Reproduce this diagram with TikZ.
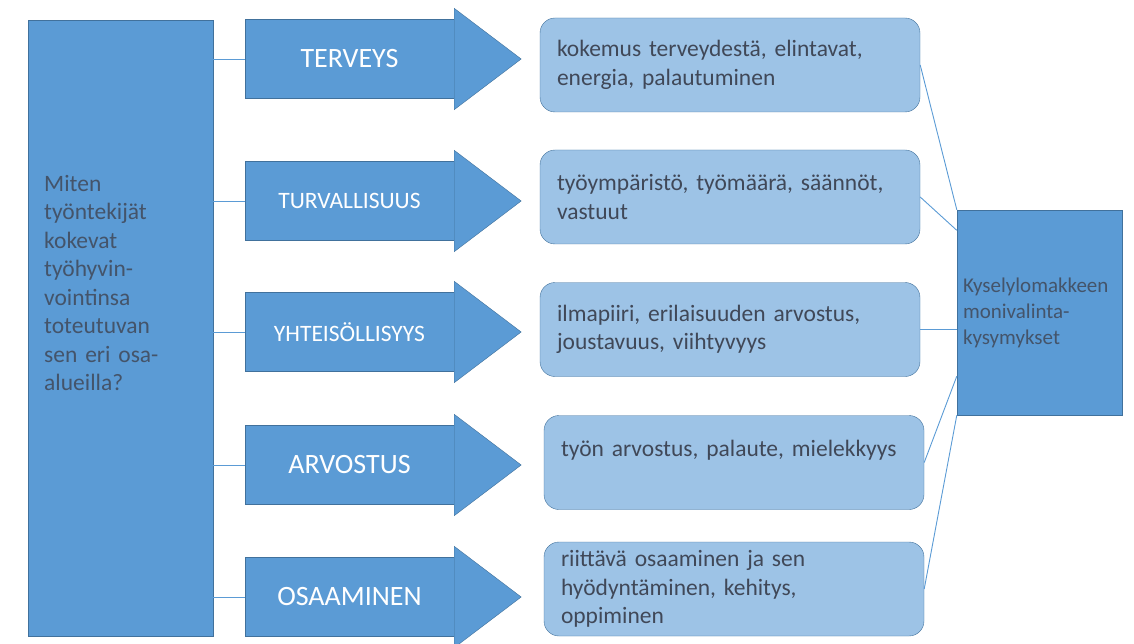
\documentclass[tikz,border=0pt]{standalone}
\usepackage{fontspec}
\setmainfont{Carlito}
\usepackage{xcolor}
\usepackage{tikz}
\usetikzlibrary{calc}
\definecolor{mainblue}{HTML}{5B9BD5}
\definecolor{edgeblue}{HTML}{41719C}
\definecolor{lightblue}{HTML}{9DC3E6}
\definecolor{slate}{HTML}{44546A}
\definecolor{darkslate}{HTML}{404858}

\begin{document}
\begin{tikzpicture}[
    x=1pt, y=-1pt,
    aihe/.style={draw=edgeblue, fill=mainblue, minimum width=209pt, minimum height=79pt, text=white, font=\fontsize{28}{33}\selectfont},
    pieniaihe/.style={aihe, font=\fontsize{23.5}{28}\selectfont},
    karki/.style={draw=edgeblue, fill=mainblue},
    kuvaus/.style={draw=edgeblue, fill=lightblue, rounded corners=15pt, minimum width=380pt, minimum height=94pt, inner xsep=17pt, text width=346pt, align=left, text=darkslate, font=\fontsize{23.5}{28.3}\selectfont},
    linja/.style={draw=mainblue, line width=0.9pt}
]
\useasboundingbox (0,0) rectangle (1134,644);

% left question box
\node[draw=edgeblue, fill=mainblue, minimum width=185pt, minimum height=616pt] (vaite) at (120.5,328) {};
\node[anchor=west, inner sep=0pt, text width=160pt, align=left, text=slate, font=\fontsize{23.5}{28.5}\selectfont] (vaiteteksti) at (44,283)
  {Miten\\työntekijät\\kokevat\\työhyvin-\\vointinsa\\toteutuvan\\sen eri osa-\\alueilla?};

% topic arrows
\node[aihe] (terveys) at (349.5,59) {TERVEYS};
\node[pieniaihe] (turva) at (349.5,201) {TURVALLISUUS};
\node[pieniaihe] (yhteiso) at (349.5,332) {YHTEISÖLLISYYS};
\node[aihe] (arvostus) at (349.5,465) {ARVOSTUS};
\node[aihe] (osaaminen) at (349.5,597) {OSAAMINEN};

\foreach \n in {terveys,turva,yhteiso,arvostus,osaaminen}{
  \draw[karki] ([yshift=11pt]\n.north east) -- ([xshift=67pt]\n.east) -- ([yshift=-11pt]\n.south east) -- cycle;
  \draw[linja] (vaite.east |- \n.west) -- (\n.west);
}

% descriptions
\node[kuvaus] (k1) at (730,65) {kokemus terveydestä, elintavat,\\energia, palautuminen};
\node[kuvaus] (k2) at (730,197) {työympäristö, työmäärä, säännöt,\\vastuut};
\node[kuvaus] (k3) at (730,329.5) {ilmapiiri, erilaisuuden arvostus,\\joustavuus, viihtyvyys};
\node[kuvaus] (k4) at (734,462.5) {työn arvostus, palaute, mielekkyys\\\mbox{}};
\node[kuvaus] (k5) at (734,589) {riittävä osaaminen ja sen\\hyödyntäminen, kehitys,\\oppiminen};

% questionnaire box
\node[draw=edgeblue, fill=mainblue, minimum width=165pt, minimum height=205pt, inner xsep=6pt, text width=153pt, align=left, text=slate, font=\fontsize{21}{26}\selectfont] (kysely) at (1039.5,312.5)
  {Kyselylomakkeen\\monivalinta-\\kysymykset};

\draw[linja] (k1.east) -- (kysely.north west);
\draw[linja] (k2.east) -- ($(kysely.north west)!0.1!(kysely.south west)$);
\draw[linja] (k3.east) -- (kysely.west |- k3.east);
\draw[linja] (k4.east) -- ($(kysely.north west)!0.81!(kysely.south west)$);
\draw[linja] (k5.east) -- (kysely.south west);
\end{tikzpicture}
\end{document}
